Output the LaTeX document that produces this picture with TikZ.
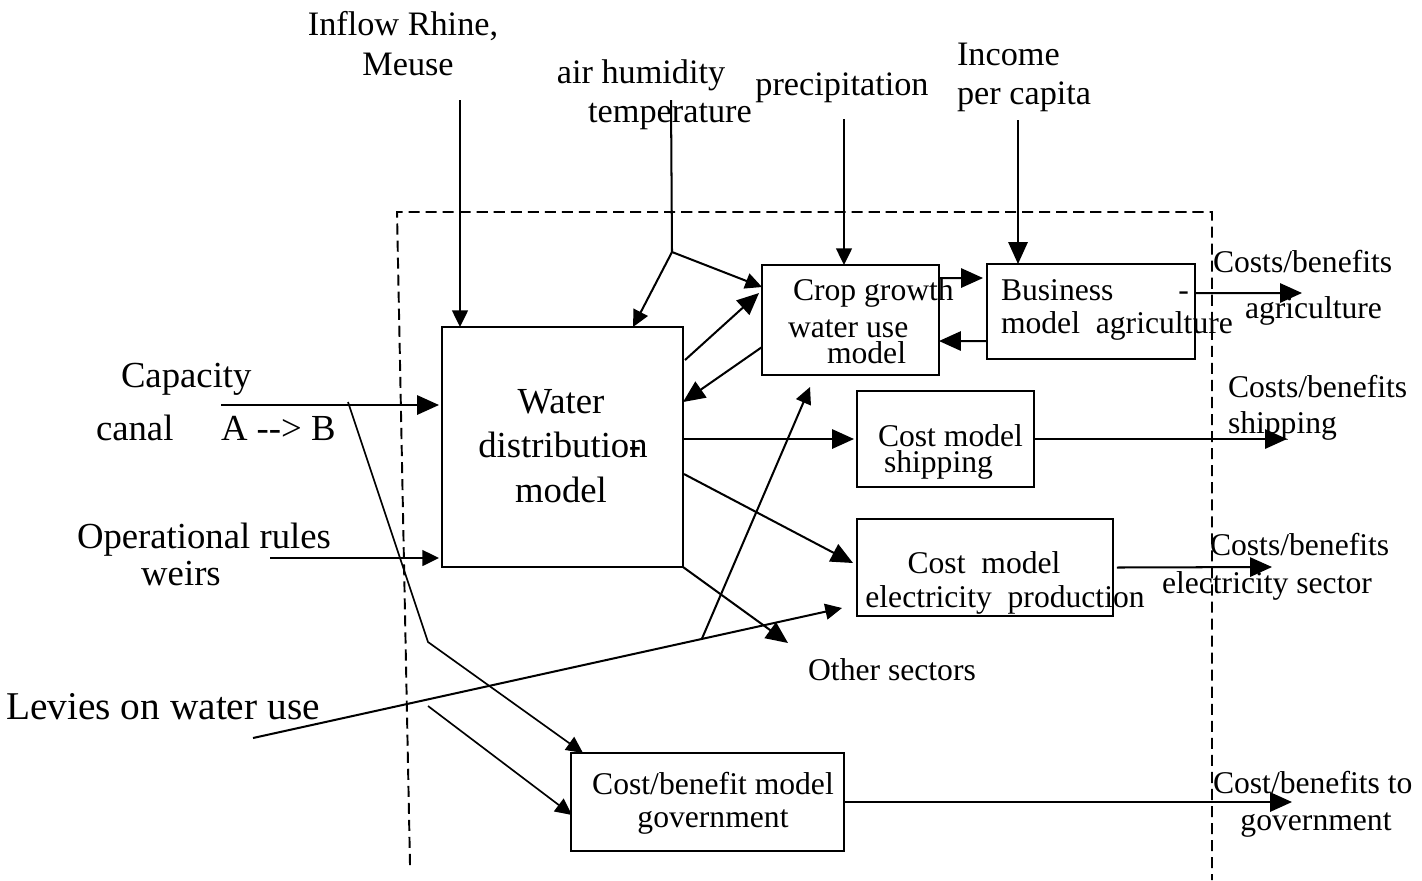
\documentclass[tikz,border=0pt]{standalone}
\usepackage{fontspec}
\setmainfont{Liberation Serif}
\usetikzlibrary{arrows.meta,calc}

% text sizes used in the diagram
\newcommand\szS{\fontsize{18pt}{21pt}\selectfont}
\newcommand\szM{\fontsize{19.5pt}{22pt}\selectfont}
\newcommand\szL{\fontsize{20.9pt}{24pt}\selectfont}
\newcommand\szXL{\fontsize{22.4pt}{26pt}\selectfont}

\begin{document}
\begin{tikzpicture}[x=0.02cm,y=-0.02cm,
  line width=1.15pt,
  box/.style={draw,line width=1.2pt,inner sep=0pt,outer sep=0pt},
  txt/.style={inner sep=0pt,outer sep=0pt,anchor=base},
  txtw/.style={inner sep=0pt,outer sep=0pt,anchor=base west},
  fsmall/.style={font=\szS},
  fmid/.style={font=\szM},
  flarge/.style={font=\szL},
  fhuge/.style={font=\szXL},
  tipB/.style={-{Triangle[length=12.5pt,width=11pt]}},
  tipS/.style={-{Triangle[length=9.5pt,width=9pt]}},
  fineline/.style={line width=0.95pt},
  boundary/.style={line width=1.1pt,dash pattern=on 6.3pt off 3.4pt}]

\useasboundingbox (0,0) rectangle (1422,880);

% system boundary
\draw[boundary] (410,865) -- (397,212) -- (1212,212) -- (1212,880);

% model boxes
\node[box,minimum width=4.82cm,minimum height=4.80cm] (wd)   at (562.5,447) {};
\node[box,minimum width=3.54cm,minimum height=2.20cm] (crop) at (850.5,320) {};
\node[box,minimum width=4.16cm,minimum height=1.90cm] (bus)  at (1091,311.5) {};
\node[box,minimum width=3.54cm,minimum height=1.92cm] (ship) at (945.5,439) {};
\node[box,minimum width=5.12cm,minimum height=1.94cm] (elec) at (985,567.5) {};
\node[box,minimum width=5.46cm,minimum height=1.96cm] (gov)  at (707.5,802) {};

% box texts
\node[txt,flarge] (wdA) at (561,413) {Water};
\node[txt,flarge] (wdB) at (563,457) {distribution};
\node[txt,flarge] (wdD) at (635,457) {-};
\node[txt,flarge] (wdC) at (561,502) {model};

\node[txtw,fsmall] (cropA) at (793,300) {Crop growth};
\node[txtw,fsmall] (cropB) at (788,337) {water use};
\node[txtw,fsmall] (cropC) at (827,363) {model};

\node[txtw,fsmall] (busA) at (1001,300) {Business\hspace{1.3cm}-};
\node[txtw,fsmall] (busB) at (1001,333) {model\ \ agriculture};

\node[txtw,fsmall] (shipA) at (878,446) {Cost model};
\node[txtw,fsmall] (shipB) at (884,472) {shipping};

\node[txt,fsmall] (elecA) at (984,573) {Cost\ \ model};
\node[txt,fsmall] (elecB) at (1005,607) {electricity\ \ production};

\node[txt,fsmall] (govA) at (713,794) {Cost/benefit model};
\node[txt,fsmall] (govB) at (713,827) {government};

% external inputs
\node[txt,fmid] (inA) at (403,35) {Inflow Rhine,};
\node[txt,fmid] (inB) at (408,75) {Meuse};
\node[txt,fmid] (humA) at (641,83) {air humidity};
\node[txt,fmid] (humB) at (670,122) {temperature};
\node[txt,fmid] (prec) at (842,95) {precipitation};
\node[txtw,fmid] (incA) at (957,65) {Income};
\node[txtw,fmid] (incB) at (957,104) {per capita};

\node[txtw,flarge] (capA) at (121,387) {Capacity};
\node[txtw,flarge] (capB) at (96,440) {canal};
\node[txtw,flarge] (capC) at (221,440) {A -\kern0pt-\kern0pt> B};
\node[txtw,flarge] (opA) at (77,548) {Operational rules};
\node[txt,flarge] (opB) at (181,585) {weirs};
\node[txt,fhuge] (lev) at (163,719) {Levies on water use};

% outputs
\node[txtw,fsmall] (outAgA) at (1213,272) {Costs/benefits};
\node[txtw,fsmall] (outAgB) at (1245,318) {agriculture};
\node[txtw,fsmall] (outShA) at (1228,397) {Costs/benefits};
\node[txtw,fsmall] (outShB) at (1228,433) {shipping};
\node[txtw,fsmall] (outElA) at (1210,555) {Costs/benefits};
\node[txtw,fsmall] (outElB) at (1162,593) {electricity sector};
\node[txt,fsmall] (other) at (892,680) {Other sectors};
\node[txtw,fsmall] (outGvA) at (1213,793) {Cost/benefits to};
\node[txt,fsmall] (outGvB) at (1316,830) {government};

% free ends of connectors
\coordinate (inflowsrc) at (460,100);
\coordinate (humtop) at (671,100);
\coordinate (humjoin) at (672,252);
\coordinate (precsrc) at (844,119);
\coordinate (incsrc) at (1018,120);
\coordinate (capsrc) at (221,405);
\coordinate (opsrc) at (270,558);
\coordinate (levsrc) at (253,738);
\coordinate (levtip) at (842,608);
\coordinate (levbranch) at ($(levsrc)!0.762!(levtip)$);
\coordinate (cutA) at (348,402);
\coordinate (cutB) at (428,642);
\coordinate (cutC) at (428,706);
\coordinate (othertip) at (788,643);
\coordinate (agriout) at (1302,293);
\coordinate (shipout) at (1287,439);
\coordinate (elecout) at (1272,567);
\coordinate (govout) at (1292,802);

% inputs from above
\draw[tipS] (inflowsrc) -- (inflowsrc |- wd.north);
\draw (humtop) -- (humjoin);
\draw[tipS] (humjoin) -- ($(wd.north west)+(191,0)$);
\draw[tipS] (humjoin) -- ($(crop.north west)+(0,22)$);
\draw[tipS] (precsrc) -- (precsrc |- crop.north);
\draw[tipB] (incsrc) -- (incsrc |- bus.north);

% exchanges between models
\draw[tipB] ($(crop.north east)+(0,13)$) -- ($(bus.north west)+(-4,14)$);
\draw[tipB] ($(bus.north west)+(0,77)$) -- ($(crop.north east)+(0,76)$);
\draw[tipB] ($(wd.north east)+(2,33)$) -- ($(crop.north west)+(-3,28)$);
\draw[tipB] ($(crop.north west)+(0,82)$) -- ($(wd.north east)+(0,75)$);
\draw[tipB] (wd.east |- ship.west) -- ($(ship.west)+(-3,0)$);
\draw[tipB] ($(wd.north east)+(1,147)$) -- ($(elec.north west)+(-4,44)$);
\draw[tipB] (wd.south east) -- (othertip);

% outputs to the right
\draw[tipB] ($(bus.north east)+(0,29)$) -- (agriout);
\draw[tipB] (ship.east) -- (shipout);
\draw[tipB] ($(elec.east)+(4,0)$) -- (elecout);
\draw[tipB] (gov.east) -- (govout);

% policy inputs from the left
\draw[tipB] (capsrc) -- ($(capsrc -| wd.west)+(-3,0)$);
\draw[tipS] (opsrc) -- ($(opsrc -| wd.west)+(-3,0)$);
\draw[tipS] (levsrc) -- (levtip);
\draw[tipS] (levbranch) -- ($(crop.south west)+(48,12)$);
\draw[tipS,fineline] (cutA) -- (cutB) -- ($(gov.north west)+(12,0)$);
\draw[tipS,fineline] (cutC) -- ($(gov.north west)+(1,62)$);

\end{tikzpicture}
\end{document}
